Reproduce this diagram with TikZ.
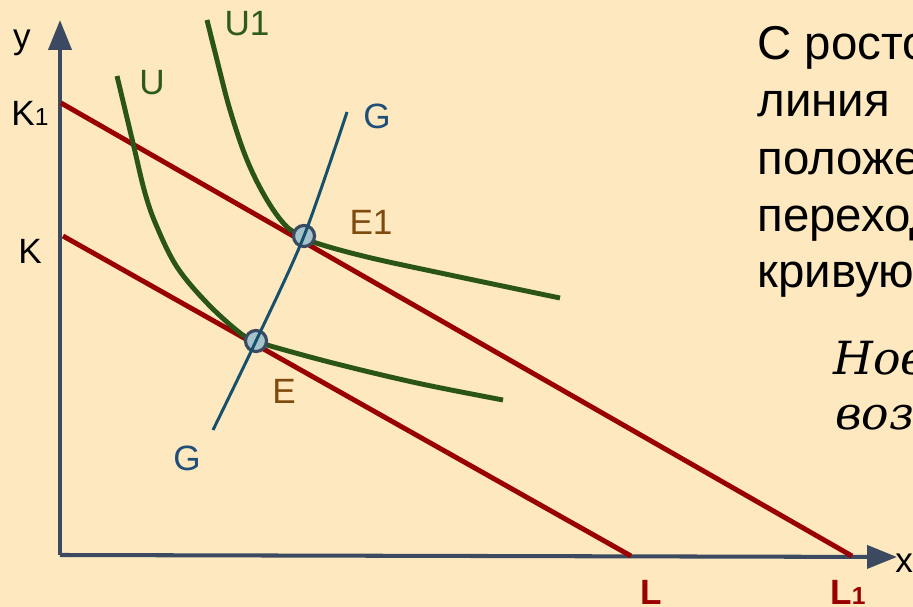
\documentclass[tikz,border=0pt]{standalone}
\usepackage{fontspec}
\setmainfont{Liberation Sans}
\newfontfamily\slideserif{DejaVu Serif}
\usepackage{tikz}
\usetikzlibrary{arrows.meta, positioning}

\definecolor{slidebg}{HTML}{FDE8BF}
\definecolor{axisgray}{HTML}{3B4A60}
\definecolor{budgetred}{HTML}{990000}
\definecolor{curvegreen}{HTML}{2A5418}
\definecolor{pathteal}{HTML}{16506A}
\definecolor{pointfill}{HTML}{A5C3CB}
\definecolor{gblue}{HTML}{1F4E79}
\definecolor{ebrown}{HTML}{7F4A0E}
\definecolor{ugreen}{HTML}{2E5A1E}

\begin{document}
\begin{tikzpicture}[
        x=0.02cm, y=-0.02cm,
        axis/.style={draw=axisgray, line width=2.3pt, -{Triangle[length=17pt, width=13pt]}},
        budget/.style={draw=budgetred, line width=2.8pt},
        indiff/.style={draw=curvegreen, line width=2.8pt},
        gline/.style={draw=pathteal, line width=1.7pt},
        eqpt/.style={circle, draw=axisgray, fill=pointfill, line width=1.8pt, minimum size=12pt, inner sep=0pt},
        lbl/.style={inner sep=0pt, font=\fontsize{20}{24}\selectfont},
        slidetext/.style={inner sep=0pt, anchor=base west, font=\fontsize{27}{32}\selectfont},
        slideital/.style={inner sep=0pt, anchor=base west, font=\fontsize{26}{31}\slideserif\itshape}
    ]

    % Page
    \useasboundingbox (0,0) rectangle (913,607);
    \fill[slidebg] (0,0) rectangle (913,607);
    \clip (0,0) rectangle (913,607);

    % Axes
    \coordinate (o) at (60,555);
    \coordinate (ytip) at (60,20);
    \coordinate (xtip) at (897,557);
    \path [axis] (o) -- (ytip);
    \path [axis] (o) -- (xtip);
    \node [lbl, anchor=west] (xlab) at (895,563) {x};
    \node [lbl] (ylab) at (22,43) {y};

    % Budget lines
    \coordinate (k1) at (61,103);
    \coordinate (l1) at (852,556);
    \coordinate (k) at (63,236);
    \coordinate (l) at (631,556);
    \path [budget] (k1) -- (l1);
    \path [budget] (k) -- (l);
    \node [lbl] (k1lab) at (30,113) {K{\fontsize{14}{14}\selectfont 1}};
    \node [lbl] (klab) at (30,251) {K};
    \node [lbl, text=budgetred, font=\fontsize{20}{24}\selectfont\bfseries] (llab) at (651,592) {L};
    \node [lbl, text=budgetred, font=\fontsize{20}{24}\selectfont\bfseries] (l1lab) at (848,592) {L{\fontsize{14}{14}\selectfont 1}};

    % Indifference curves
    \path [indiff] plot [smooth, tension=0.6] coordinates {(117,76) (133,143) (145,193) (157,227) (177,267) (207,303) (240,333) (256,341) (267,345) (333,363) (417,383) (503,400)};
    \path [indiff] plot [smooth, tension=0.6] coordinates {(207,20) (217,60) (230,110) (247,160) (267,200) (287,227) (304,236) (313,242) (367,257) (450,275) (560,298)};
    \node [lbl, text=ugreen] (ulab) at (152,83) {U};
    \node [lbl, text=ugreen] (u1lab) at (247,24) {U1};

    % Equilibria and expansion path
    \node [eqpt] (e) at (256,341) {};
    \node [eqpt] (e1) at (304,236) {};
    \coordinate (g0) at (213,430);
    \coordinate (g1) at (347,112);
    \path [gline] plot [smooth, tension=0.5] coordinates {(g0) (e.center) (e1.center) (g1)};
    \node [lbl, text=ebrown] (elab) at (284,391) {E};
    \node [lbl, text=ebrown] (e1lab) at (371,222) {E1};
    \node [lbl, text=gblue] (gtop) at (377,116) {G};
    \node [lbl, text=gblue] (gbot) at (187,458) {G};

    % Slide text (cut at the right edge)
    \node [slidetext] (t1) at (757,60) {С ростом};
    \node [slidetext] (t2) at (757,117) {линия};
    \node [slidetext] (t3) at (757,175) {положение};
    \node [slidetext] (t4) at (757,232) {переходит};
    \node [slidetext] (t5) at (757,288) {кривую};
    \node [slideital] (t6) at (833,375) {Новое};
    \node [slideital] (t7) at (835,430) {возм};

\end{tikzpicture}
\end{document}
